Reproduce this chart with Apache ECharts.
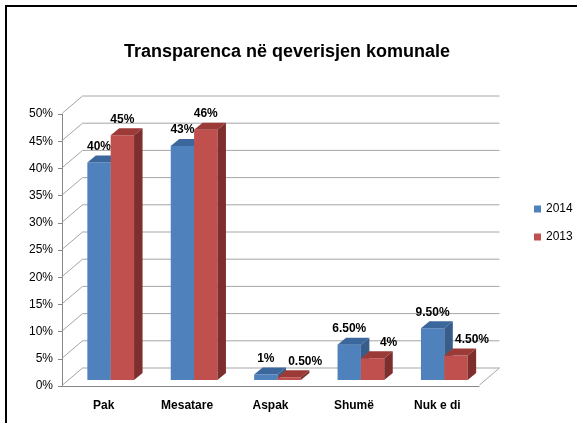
<!DOCTYPE html>
<html>
<head>
<meta charset="utf-8">
<script src="https://cdn.jsdelivr.net/npm/echarts@6/dist/echarts.min.js"></script>
<style>
  html, body { margin: 0; padding: 0; background: #fff; overflow: hidden; }
  #main { width: 577px; height: 423px; }
</style>
</head>
<body>
<div id="main"></div>
<script>
// data
var categories = ['Pak', 'Mesatare', 'Aspak', 'Shumë', 'Nuk e di'];
var values2014 = [40, 43, 1, 6.5, 9.5];
var values2013 = [45, 46, 0.5, 4, 4.5];
var labels2014 = ['40%', '43%', '1%', '6.50%', '9.50%'];
var labels2013 = ['45%', '46%', '0.50%', '4%', '4.50%'];
var yTicks = [0, 5, 10, 15, 20, 25, 30, 35, 40, 45, 50];

var font = 'Liberation Sans';
//3D depth offsets (px)
var BACK_DX = 13.5, BACK_DY = -12;
var FRONT_DX = -6.5, FRONT_DY = 5;
var BAR_DX = 8.5, BAR_DY = -7;

var colors = {
    blue: { front: '#4F81BD', top: '#3B679C', side: '#385D8A' },
    red: { front: '#C0504D', top: '#9C3A37', side: '#7E2F2D' }
};

function wallItem(params, api) {
    var cs = params.coordSys;
    var v = api.value(0);
    var y = api.coord([0, v])[1];
    var L = cs.x, R = cs.x + cs.width;
    var st = { stroke: '#A6A6A6', lineWidth: 1 };
    var children = [
        { type: 'line', shape: { x1: L + BACK_DX, y1: y + BACK_DY, x2: R + BACK_DX, y2: y + BACK_DY }, style: st },
        { type: 'line', shape: { x1: L + FRONT_DX, y1: y + FRONT_DY, x2: L + BACK_DX, y2: y + BACK_DY }, style: st }
    ];
    if (v === 0) {
        children.push({ type: 'line', shape: { x1: R + FRONT_DX, y1: y + FRONT_DY, x2: R + BACK_DX, y2: y + BACK_DY }, style: st });
    }
    return { type: 'group', children: children };
}

function barItem(which) {
    return function (params, api) {
        var idx = params.dataIndex;
        var cat = api.value(0), val = api.value(1);
        var base = api.coord([cat, 0]);
        var top = api.coord([cat, val]);
        var band = api.size([1, 0])[0];
        var w = band * 0.28;
        var x0 = base[0] + (which === 0 ? -w : 0);
        var yb = base[1], yt = top[1];
        var c = which === 0 ? colors.blue : colors.red;
        var text = which === 0 ? labels2014[idx] : labels2013[idx];
        var lx = x0 + w / 2;
        //excel pushes the red label right when it's lower than the blue one
        if (which === 1 && values2013[idx] < values2014[idx]) lx += 16;
        return {
            type: 'group',
            children: [
                { type: 'rect', shape: { x: x0, y: yt, width: w, height: yb - yt }, style: { fill: c.front } },
                { type: 'polygon', shape: { points: [[x0, yt], [x0 + w, yt], [x0 + w + BAR_DX, yt + BAR_DY], [x0 + BAR_DX, yt + BAR_DY]] }, style: { fill: c.top } },
                { type: 'polygon', shape: { points: [[x0 + w, yt], [x0 + w + BAR_DX, yt + BAR_DY], [x0 + w + BAR_DX, yb + BAR_DY], [x0 + w, yb]] }, style: { fill: c.side } },
                { type: 'text', x: lx, y: yt - 16, style: { text: text, fill: '#000', font: 'bold 12px ' + font, align: 'center', verticalAlign: 'middle' } }
            ]
        };
    };
}

var myChart = echarts.init(document.getElementById('main'));
var option = {
    backgroundColor: '#fff',
    animation: false,
    title: {
        text: 'Transparenca në qeverisjen komunale',
        left: 282,
        top: 38,
        textAlign: 'center',
        textStyle: { fontFamily: font, fontSize: 18, fontWeight: 'bold', color: '#000' }
    },
    legend: {
        orient: 'vertical',
        left: 529,
        top: 198,
        itemWidth: 7,
        itemHeight: 7,
        itemGap: 16,
        icon: 'rect',
        data: ['2014', '2013'],
        textStyle: { fontFamily: font, fontSize: 12, color: '#000' }
    },
    graphic: [{
        type: 'polyline',
        shape: { points: [[6, 430], [6, 6], [580, 6]] },
        style: { fill: 'none', stroke: '#000', lineWidth: 2 },
        z: 100
    }],
    grid: [
        { left: 69, top: 108, width: 417, height: 272 },
        { left: 62, top: 114, width: 417, height: 272 }
    ],
    xAxis: [
        { type: 'category', gridIndex: 0, data: categories, show: false },
        {
            type: 'category', gridIndex: 1, data: categories,
            axisLine: { lineStyle: { color: '#868686' } },
            axisTick: { length: 5, lineStyle: { color: '#868686' } },
            axisLabel: { margin: 14, fontFamily: font, fontSize: 12, fontWeight: 'bold', color: '#000' }
        }
    ],
    yAxis: [
        { type: 'value', gridIndex: 0, min: 0, max: 50, interval: 5, show: false, splitLine: { show: false } },
        {
            type: 'value', gridIndex: 1, min: 0, max: 50, interval: 5,
            axisLine: { show: true, lineStyle: { color: '#868686' } },
            axisTick: { show: true, length: 4, lineStyle: { color: '#868686' } },
            splitLine: { show: false },
            axisLabel: { margin: 9, formatter: '{value}%', fontFamily: font, fontSize: 12, color: '#000' }
        }
    ],
    series: [
        {
            type: 'custom', name: 'wall', xAxisIndex: 0, yAxisIndex: 0, z: 1,
            renderItem: wallItem, data: yTicks.map(function (v) { return [v]; }),
            encode: { y: 0 }, silent: true
        },
        {
            type: 'custom', name: '2014', xAxisIndex: 0, yAxisIndex: 0, z: 3,
            itemStyle: { color: colors.blue.front },
            renderItem: barItem(0),
            data: values2014.map(function (v, i) { return [i, v]; })
        },
        {
            type: 'custom', name: '2013', xAxisIndex: 0, yAxisIndex: 0, z: 4,
            itemStyle: { color: colors.red.front },
            renderItem: barItem(1),
            data: values2013.map(function (v, i) { return [i, v]; })
        }
    ]
};
myChart.setOption(option);
</script>
</body>
</html>
